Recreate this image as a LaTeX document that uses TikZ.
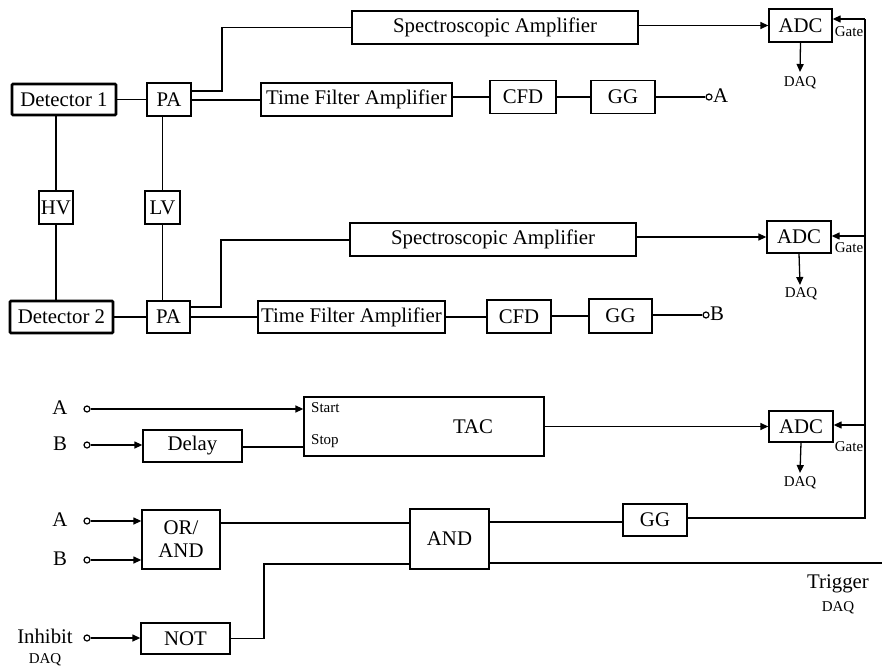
\documentclass[tikz,border=0pt]{standalone}
\usepackage{fontspec}
\setmainfont{Liberation Serif}
\usetikzlibrary{arrows.meta}
\begin{document}
\begin{tikzpicture}[x=1pt,y=-1pt,
  every node/.style={font=\fontsize{20.8}{23}\selectfont},
  box/.style={draw, rectangle, line width=1.3pt, inner sep=0pt, align=center},
  detbox/.style={box, line width=2.8pt, rounded corners=1pt},
  small/.style={font=\fontsize{15}{16}\selectfont, inner sep=0pt},
  term/.style={draw, circle, line width=1.2pt, inner sep=0pt, minimum size=6pt},
  wire/.style={line width=1.3pt},
  arr/.style={wire, -{Triangle[length=8pt,width=7pt]}}
]
\useasboundingbox (0,0) rectangle (882,668);

% ---------------- row 1 ----------------
\node[detbox, minimum width=104, minimum height=31] (det1) at (64,99.5) {Detector 1};
\node[box, minimum width=44, minimum height=33] (pa1) at (169,99.5) {PA};
\node[box, minimum width=286, minimum height=33] (sp1) at (495,27.5) {Spectroscopic Amplifier};
\node[box, minimum width=191, minimum height=33] (tf1) at (356.5,99.5) {Time Filter Amplifier};
\node[box, minimum width=66, minimum height=33] (cfd1) at (523,97) {CFD};
\node[box, minimum width=64, minimum height=33] (gg1) at (623,97) {GG};
\node[term] (tA1) at (709,97) {};
\node[anchor=west, inner sep=0pt] (lA1) at (713,96) {A};
\node[box, minimum width=63, minimum height=33] (adc1) at (800.5,25.5) {ADC};
\node[small] (daq1) at (800,83) {DAQ};
\node[small] (gate1) at (849,32) {Gate};

% ---------------- HV / LV ----------------
\node[box, minimum width=34, minimum height=33] (hv) at (56,207.5) {HV};
\node[box, minimum width=35, minimum height=33] (lv) at (162.5,207.5) {LV};

% ---------------- row 2 ----------------
\node[detbox, minimum width=103, minimum height=32] (det2) at (61.5,317) {Detector 2};
\node[box, minimum width=43, minimum height=32] (pa2) at (168.5,317) {PA};
\node[box, minimum width=286, minimum height=33] (sp2) at (493,239.5) {Spectroscopic Amplifier};
\node[box, minimum width=187, minimum height=32] (tf2) at (351.5,317) {Time Filter Amplifier};
\node[box, minimum width=64, minimum height=33] (cfd2) at (519,316.5) {CFD};
\node[box, minimum width=63, minimum height=34] (gg2) at (620.5,316) {GG};
\node[term] (tB2) at (706,315) {};
\node[anchor=west, inner sep=0pt] (lB2) at (710,314) {B};
\node[box, minimum width=64, minimum height=32] (adc2) at (799,237) {ADC};
\node[small] (daq2) at (801,294) {DAQ};
\node[small] (gate2) at (849,248) {Gate};

% ---------------- row 3 ----------------
\node[inner sep=0pt] (lA3) at (60,408) {A};
\node[term] (tA3) at (87,409) {};
\node[inner sep=0pt] (lB3) at (60,444) {B};
\node[term] (tB3) at (87,445) {};
\node[box, minimum width=99, minimum height=32] (delay) at (192.5,446) {Delay};
\node[box, minimum width=240, minimum height=59] (tac) at (424,426.5) {};
\node (tactext) at (473,427) {TAC};
\node[small, anchor=west] (start) at (311,408) {Start};
\node[small, anchor=west] (stop) at (311,441) {Stop};
\node[box, minimum width=64, minimum height=31] (adc3) at (801,426.5) {ADC};
\node[small] (daq3) at (800,483) {DAQ};
\node[small] (gate3) at (849,447) {Gate};

% ---------------- row 4 ----------------
\node[inner sep=0pt] (lA4) at (60,520) {A};
\node[term] (tA4) at (87,521) {};
\node[inner sep=0pt] (lB4) at (60,559) {B};
\node[term] (tB4) at (87,560) {};
\node[box, minimum width=78, minimum height=59] (orand) at (181,539.5) {OR/\\AND};
\node[box, minimum width=79, minimum height=60] (and) at (449.5,539) {AND};
\node[box, minimum width=64, minimum height=32] (gg3) at (655,520) {GG};
\node[inner sep=0pt] (linh) at (45,636) {Inhibit};
\node[small] (daqi) at (45,660) {DAQ};
\node[term] (tI) at (87,638) {};
\node[box, minimum width=89, minimum height=31] (not) at (185.5,638.5) {NOT};
\node[inner sep=0pt] (ltrig) at (838,584) {Trigger};
\node[small] (daqt) at (838,608) {DAQ};

% ---------------- coordinates ----------------
\coordinate (g1) at (865,19);
\coordinate (g2) at (865,236);
\coordinate (g3) at (865,425);
\coordinate (g4) at (865,518);
\coordinate (dq1) at (800,72);
\coordinate (dq2) at (800,285);
\coordinate (dq3) at (800,473);
\coordinate (trig) at (882,563);

% ---------------- wires row 1 ----------------
\draw[wire] (det1.east) -- (pa1.west);
\draw[wire] (pa1.east |- 0,91) -- (222,91) -- (222,27.5) -- (sp1.west);
\draw[wire] (pa1.east |- 0,100) -- (tf1.west |- 0,100);
\draw[wire] (tf1.east |- cfd1) -- (cfd1.west);
\draw[wire] (cfd1.east) -- (gg1.west);
\draw[wire] (gg1.east) -- (tA1.west);
\draw[arr] (sp1.east |- adc1) -- (adc1.west);
\draw[arr] (adc1.south) -- (dq1);

% HV / LV
\draw[wire] (hv.north |- det1.south) -- (hv.north);
\draw[wire] (hv.south) -- (hv.south |- det2.north);
\draw[wire] (lv.north |- pa1.south) -- (lv.north);
\draw[wire] (lv.south) -- (lv.south |- pa2.north);

% ---------------- wires row 2 ----------------
\draw[wire] (det2.east) -- (pa2.west);
\draw[wire] (pa2.east |- 0,307) -- (221,307) -- (221,240) -- (sp2.west |- 0,240);
\draw[wire] (pa2.east |- 0,317) -- (tf2.west);
\draw[wire] (tf2.east) -- (cfd2.west |- tf2);
\draw[wire] (cfd2.east |- gg2) -- (gg2.west);
\draw[wire] (gg2.east |- tB2) -- (tB2.west);
\draw[arr] (sp2.east |- adc2) -- (adc2.west);
\draw[arr] (adc2.south) -- (dq2);

% ---------------- wires row 3 ----------------
\draw[arr] (tA3.east) -- (tac.west |- tA3);
\draw[arr] (tB3.east) -- (delay.west |- tB3);
\draw[wire] (delay.east |- 0,447) -- (tac.west |- 0,447);
\draw[arr] (tac.east) -- (adc3.west);
\draw[arr] (adc3.south) -- (dq3);

% ---------------- gate bus ----------------
\draw[wire] (gg3.east |- g4) -- (g4) -- (g1);
\draw[arr] (g1) -- (adc1.east |- g1);
\draw[arr] (g2) -- (adc2.east |- g2);
\draw[arr] (g3) -- (adc3.east |- g3);

% ---------------- wires row 4 ----------------
\draw[arr] (tA4.east) -- (orand.west |- tA4);
\draw[arr] (tB4.east) -- (orand.west |- tB4);
\draw[wire] (orand.east |- 0,523) -- (and.west |- 0,523);
\draw[arr] (tI.east) -- (not.west |- tI);
\draw[wire] (not.east) -- (264,638.5) -- (264,564) -- (and.west |- 0,564);
\draw[wire] (and.east |- 0,522) -- (gg3.west |- 0,522);
\draw[wire] (and.east |- trig) -- (trig);
\end{tikzpicture}
\end{document}
